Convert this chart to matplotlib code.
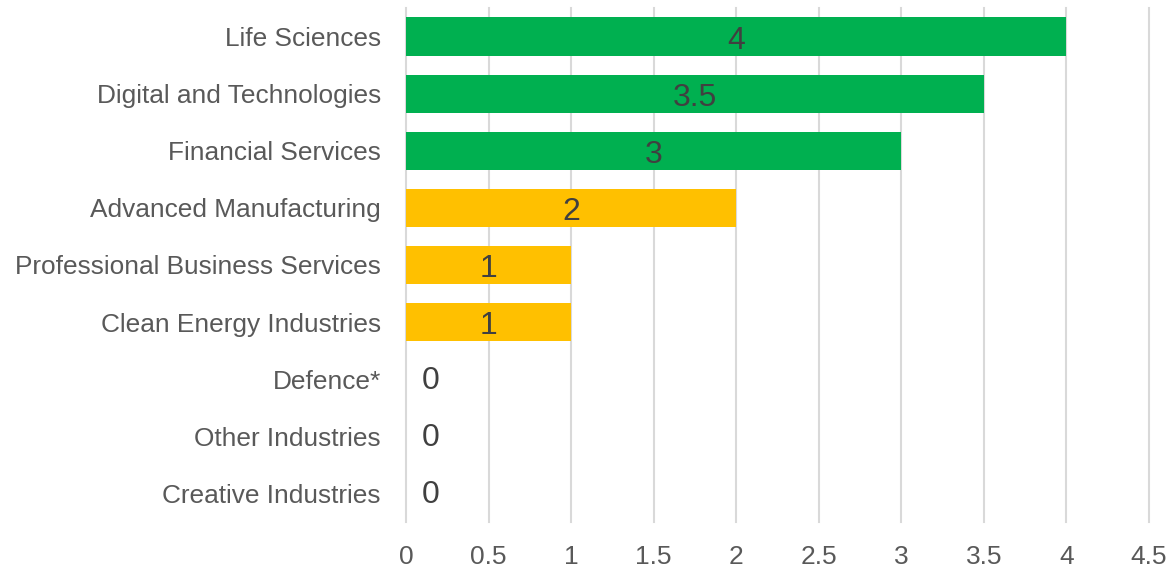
import matplotlib.pyplot as plt

# sectors top to bottom, with score and colour group
sectors = ['Life Sciences', 'Digital and Technologies', 'Financial Services',
           'Advanced Manufacturing', 'Professional Business Services',
           'Clean Energy Industries', 'Defence*', 'Other Industries',
           'Creative Industries']
scores = [4, 3.5, 3, 2, 1, 1, 0, 0, 0]
groups = ['high', 'high', 'high', 'mid', 'mid', 'mid', 'low', 'low', 'low']
x_ticks = [0, 0.5, 1, 1.5, 2, 2.5, 3, 3.5, 4, 4.5]

group_colors = {'high': '#00B050', 'mid': '#FFC000', 'low': '#FFC000'}

plt.rcParams['font.family'] = ['Liberation Sans', 'DejaVu Sans']

fig = plt.figure(figsize=(11.71, 5.70), dpi=100)
ax = fig.add_axes([0.3467, 0.0842, 0.6345, 0.9018])

ypos = list(range(len(sectors)))
colors = [group_colors[g] for g in groups]
bars = ax.barh(ypos, scores, height=0.67, color=colors, zorder=2)

# value labels: centred in the bar, or just outside for empty bars
for y, v in zip(ypos, scores):
    label = f'{v:g}'
    if v > 0:
        ax.text(v / 2, y + 0.07, label, ha='center', va='center',
                fontsize=23, color='#404040', zorder=3)
    else:
        ax.annotate(label, (0, y), xytext=(11.5, -1), textcoords='offset points',
                    ha='left', va='center', fontsize=23, color='#404040')

ax.set_yticks(ypos)
ax.set_yticklabels(sectors, fontsize=18.9, color='#595959')
ax.set_ylim(len(sectors) - 0.5, -0.5)
ax.set_xlim(0, 4.5)
ax.set_xticks(x_ticks)
ax.set_xticklabels([f'{t:g}' for t in x_ticks], fontsize=19, color='#595959')

ax.tick_params(axis='both', length=0)
ax.tick_params(axis='y', pad=18)
ax.tick_params(axis='x', pad=16.5)
for s in ax.spines.values():
    s.set_visible(False)
ax.grid(axis='x', color='#D9D9D9', linewidth=1.5, zorder=0)
ax.set_axisbelow(True)
for gl in ax.get_xgridlines():
    gl.set_clip_on(False)

fig.savefig('out.png', dpi=100)
